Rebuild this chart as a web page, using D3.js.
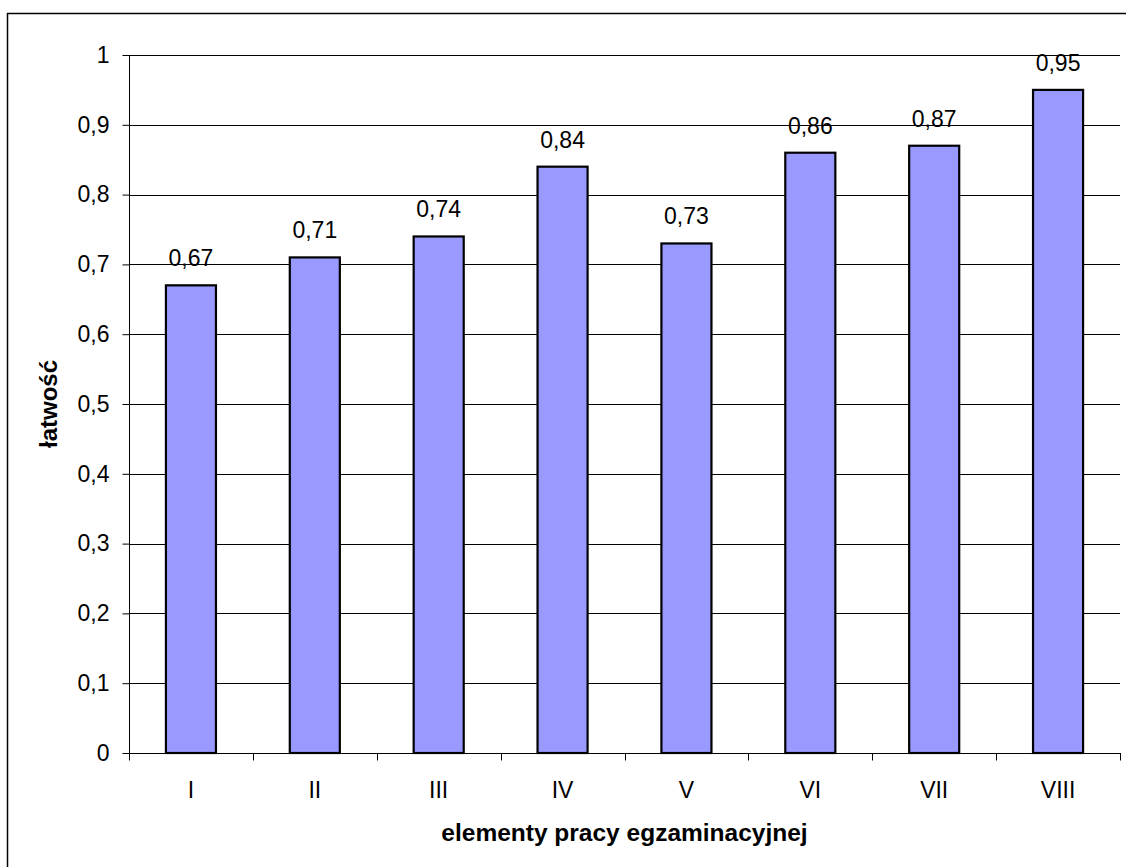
<!DOCTYPE html>
<html>
<head>
<meta charset="utf-8">
<script src="https://cdn.jsdelivr.net/npm/d3@7"></script>
<style>
  html, body { margin: 0; padding: 0; background: #fff; }
  svg { display: block; font-family: "Liberation Sans", Arial, sans-serif; }
</style>
</head>
<body>
<svg id="chart" width="1126" height="867"></svg>
<script>
// data
var categories = ["I", "II", "III", "IV", "V", "VI", "VII", "VIII"];
var values = [0.67, 0.71, 0.74, 0.84, 0.73, 0.86, 0.87, 0.95];
var yTicks = [0, 0.1, 0.2, 0.3, 0.4, 0.5, 0.6, 0.7, 0.8, 0.9, 1];

var pl = d3.formatLocale({ decimal: ",", thousands: " ", grouping: [3], currency: ["", " zł"] });
var fmtTick = pl.format(".1~f"),
  fmtVal = pl.format(".2f");

var svg = d3.select("#chart");

// outer frame (runs off the right / bottom edge like the original)
svg.append("rect")
  .attr("x", 7.5).attr("y", 13.5)
  .attr("width", 1300).attr("height", 1000)
  .attr("fill", "none")
  .attr("stroke", "#000")
  .attr("stroke-width", 1.5);

var plotLeft = 129, plotRight = 1120, plotTop = 55, plotBottom = 753;

var x = d3.scaleBand().domain(categories).range([plotLeft, plotRight]).padding(0);
var y = d3.scaleLinear().domain([0, 1]).range([plotBottom, plotTop]);

// gridlines
svg.append("g")
  .selectAll("line")
  .data(yTicks.slice(1))
  .enter()
  .append("line")
  .attr("x1", plotLeft).attr("x2", plotRight)
  .attr("y1", function (d) { return Math.round(y(d)) + 0.5; })
  .attr("y2", function (d) { return Math.round(y(d)) + 0.5; })
  .attr("stroke", "#000")
  .attr("stroke-width", 1);

// bars
var bw = x.bandwidth() * 0.404;
svg.append("g")
  .selectAll("rect")
  .data(values)
  .enter()
  .append("rect")
  .attr("x", function (d, i) { return x(categories[i]) + (x.bandwidth() - bw) / 2; })
  .attr("y", function (d) { return y(d); })
  .attr("width", bw)
  .attr("height", function (d) { return y(0) - y(d); })
  .attr("fill", "#9999ff")
  .attr("stroke", "#000")
  .attr("stroke-width", 2.2);

// value labels
svg.append("g")
  .selectAll("text")
  .data(values)
  .enter()
  .append("text")
  .attr("x", function (d, i) { return x(categories[i]) + x.bandwidth() / 2; })
  .attr("y", function (d) { return y(d) - 19; })
  .attr("text-anchor", "middle")
  .attr("font-size", 23)
  .text(function (d) { return fmtVal(d); });

// y axis
var yAxis = d3.axisLeft(y)
  .tickValues(yTicks)
  .tickSize(7)
  .tickPadding(13)
  .tickFormat(fmtTick);
var gy = svg.append("g")
  .attr("transform", "translate(" + (plotLeft + 0.5) + ",0)")
  .call(yAxis);
gy.select(".domain").attr("stroke", "#000").attr("d", "M0," + plotTop + "V" + plotBottom);
gy.selectAll(".tick line").attr("stroke", "#000");
gy.selectAll(".tick text")
  .attr("font-size", 23)
  .attr("font-family", "Liberation Sans, Arial, sans-serif")
  .attr("fill", "#000");

// x axis: ticks at band boundaries
var gx = svg.append("g").attr("transform", "translate(0," + (plotBottom + 0.5) + ")");
gx.append("line")
  .attr("x1", plotLeft).attr("x2", plotRight + 1)
  .attr("stroke", "#000");
gx.selectAll("line.tk")
  .data(categories.concat(["end"]))
  .enter()
  .append("line")
  .attr("class", "tk")
  .attr("x1", function (d, i) { return Math.round(plotLeft + i * x.bandwidth()) + 0.5; })
  .attr("x2", function (d, i) { return Math.round(plotLeft + i * x.bandwidth()) + 0.5; })
  .attr("y1", 0).attr("y2", 7)
  .attr("stroke", "#000");
gx.selectAll("text")
  .data(categories)
  .enter()
  .append("text")
  .attr("x", function (d) { return x(d) + x.bandwidth() / 2; })
  .attr("y", 797 - plotBottom)
  .attr("text-anchor", "middle")
  .attr("font-size", 23)
  .text(function (d) { return d; });

// axis titles
svg.append("text")
  .attr("x", (plotLeft + plotRight) / 2)
  .attr("y", 841)
  .attr("text-anchor", "middle")
  .attr("font-size", 24.5)
  .attr("font-weight", "bold")
  .text("elementy pracy egzaminacyjnej");

svg.append("text")
  .attr("transform", "translate(57," + (plotTop + plotBottom) / 2 + ") rotate(-90)")
  .attr("text-anchor", "middle")
  .attr("font-size", 24)
  .attr("font-weight", "bold")
  .text("łatwość");
</script>
</body>
</html>
